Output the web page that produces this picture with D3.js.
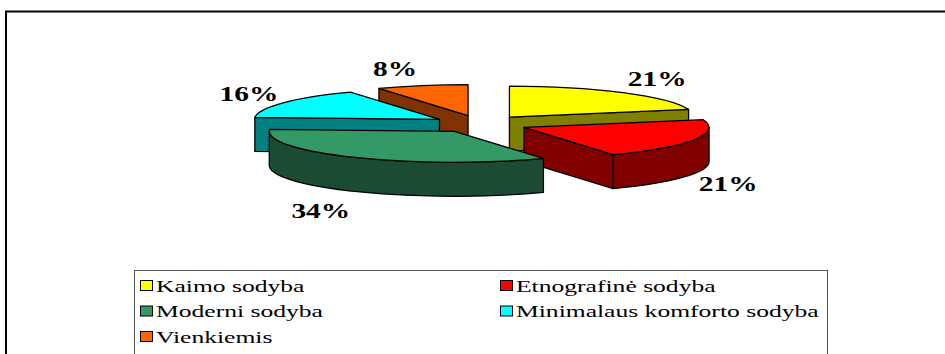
<!DOCTYPE html>
<html>
<head>
<meta charset="utf-8">
<script src="https://cdn.jsdelivr.net/npm/d3@7"></script>
<style>
  html, body { margin: 0; padding: 0; background: #fff; }
  svg { display: block; }
</style>
</head>
<body>
<svg id="chart" width="945" height="354"></svg>
<script>
// Survey shares by homestead type
const categories = ["Kaimo sodyba", "Etnografinė sodyba", "Moderni sodyba", "Minimalaus komforto sodyba", "Vienkiemis"];
const shares = [21, 21, 34, 16, 8];
const topColors = ["#FFFF00", "#FF0000", "#339966", "#00FFFF", "#FF6600"];
const sideColors = ["#808000", "#800000", "#1C4B33", "#008080", "#803300"];

const SERIF = "'Liberation Serif', 'Times New Roman', Times, 'DejaVu Serif', serif";
const W = 945, H = 354;
const svg = d3.select("#chart");
svg.append("rect").attr("width", W).attr("height", H).attr("fill", "#fff");

// chart frame (runs off the right and bottom edges)
svg.append("path")
  .attr("d", `M6,${H + 2} L6,11.5 L${W + 2},11.5`)
  .attr("fill", "none").attr("stroke", "#000").attr("stroke-width", 2);

// ---- 3D exploded pie ----
const cx = 480, cy = 124;      // projected centre of the pie
const rx = 185, ry = 31;       // ellipse radii of the top face
const depth = 34;              // slice thickness
const explode = 48;            // explosion distance (x), y is foreshortened
const explodeY = explode * 0.18;

const pie = d3.pie().sort(null).startAngle(0).endAngle(2 * Math.PI);
const arcs = pie(shares).map((a, i) => {
  const mid = (a.startAngle + a.endAngle) / 2;
  const ox = cx + explode * Math.sin(mid);
  const oy = cy - explodeY * Math.cos(mid);
  return { ...a, i, mid, ox, oy };
});

function pt(s, ang, dz = 0) {
  return [s.ox + rx * Math.sin(ang), s.oy - ry * Math.cos(ang) + dz];
}
function arcTo(p, sweep, large) {
  return `A${rx},${ry} 0 ${large ? 1 : 0} ${sweep} ${p[0]},${p[1]}`;
}

// back slices first
const order = arcs.slice().sort((a, b) => (-Math.cos(a.mid)) - (-Math.cos(b.mid)));

const g = svg.append("g")
  .attr("stroke", "#000").attr("stroke-width", 1.3).attr("stroke-linejoin", "round");

order.forEach(s => {
  const a0 = s.startAngle, a1 = s.endAngle;
  const apex = [s.ox, s.oy];
  const apexD = [s.ox, s.oy + depth];
  const sg = g.append("g");

  // radial cut faces that face the viewer
  const radial = [];
  if (Math.sin(a0) < -1e-6) radial.push(a0);
  if (Math.sin(a1) > 1e-6) radial.push(a1);
  radial.forEach(ang => {
    const p = pt(s, ang), pd = pt(s, ang, depth);
    sg.append("path")
      .attr("d", `M${apex} L${p} L${pd} L${apexD} Z`)
      .attr("fill", sideColors[s.i]);
  });

  // outer rim on the front half
  const fs = Math.max(a0, Math.PI / 2), fe = Math.min(a1, 3 * Math.PI / 2);
  if (fe > fs) {
    const p0 = pt(s, fs), p1 = pt(s, fe);
    const p1d = pt(s, fe, depth), p0d = pt(s, fs, depth);
    sg.append("path")
      .attr("d", `M${p0} ${arcTo(p1, 1, false)} L${p1d} ${arcTo(p0d, 0, false)} Z`)
      .attr("fill", sideColors[s.i]);
  }

  // top face
  const t0 = pt(s, a0), t1 = pt(s, a1);
  sg.append("path")
    .attr("d", `M${apex} L${t0} ${arcTo(t1, 1, a1 - a0 > Math.PI)} Z`)
    .attr("fill", topColors[s.i]);
});

// percentage labels outside the rim
const labelSX = 1.4;
arcs.forEach(s => {
  const front = Math.cos(s.mid) < 0 ? depth : 0;
  const rim = pt(s, s.mid, front);
  const right = Math.sin(s.mid) > 0;
  const x = rim[0] + (right ? 5 : -5);
  const y = rim[1] - Math.cos(s.mid) * 20 + 2;
  svg.append("g")
    .attr("transform", `translate(${x},${y}) scale(${labelSX},1)`)
    .append("text")
    .attr("font-family", SERIF)
    .attr("text-anchor", right ? "start" : "end")
    .attr("dy", "0.35em")
    .attr("font-size", 21)
    .attr("font-weight", "bold")
    .attr("fill", "#000")
    .text(shares[s.i] + "%");
});

// ---- legend ----
const legendBox = { x: 134.5, y: 270.5, w: 693, h: 100 };
svg.append("rect")
  .attr("x", legendBox.x).attr("y", legendBox.y)
  .attr("width", legendBox.w).attr("height", legendBox.h)
  .attr("fill", "#fff").attr("stroke", "#555").attr("stroke-width", 1);

const colX = d3.scalePoint().domain([0, 1]).range([140, 500]);
const rowY = d3.scalePoint().domain([0, 1, 2]).range([286, 337]);
const textSX = 1.6;

categories.forEach((name, i) => {
  const c = i % 2, r = Math.floor(i / 2);
  const x = colX(c), y = rowY(r);
  svg.append("rect")
    .attr("x", x + 0.5).attr("y", y - 5.5)
    .attr("width", 12).attr("height", 10)
    .attr("fill", topColors[i]).attr("stroke", "#000").attr("stroke-width", 1);
  svg.append("g")
    .attr("transform", `translate(${x + 16},${y}) scale(${textSX},1)`)
    .append("text")
    .attr("font-family", SERIF)
    .attr("dy", "0.35em")
    .attr("font-size", 16)
    .attr("fill", "#000")
    .text(name);
});
</script>
</body>
</html>
